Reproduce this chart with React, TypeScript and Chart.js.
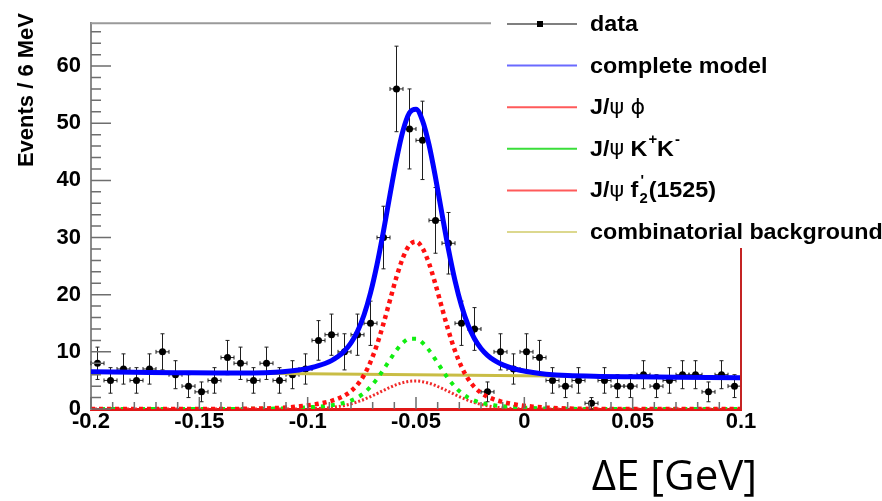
import React, { useEffect, useRef } from 'react';
import { Chart, registerables } from 'chart.js';

Chart.register(...registerables);

// ---------------- data ----------------
const BIN_LOW = -0.2;
const BIN_WIDTH = 0.006; // 6 MeV bins

const dataCounts = [
  8, 5, 7, 5, 7, 10, 6, 4, 3, 5,
  9, 8, 5, 8, 5, 6, 7, 12, 13, 10,
  13, 15, 30, 56, 49, 47, 33, 29, 15, 14,
  3, 10, 7, 10, 9, 5, 4, 5, 1, 5,
  4, 4, 6, 4, 5, 6, 6, 3, 6, 4,
];

const curveX = [
  -0.2, -0.18, -0.16, -0.14, -0.125, -0.115, -0.108, -0.104, -0.101, -0.098,
  -0.095, -0.092, -0.089, -0.086, -0.083, -0.08, -0.077, -0.074, -0.071, -0.068,
  -0.065, -0.062, -0.059, -0.056, -0.053, -0.05, -0.047, -0.044, -0.041, -0.038,
  -0.035, -0.032, -0.029, -0.026, -0.023, -0.02, -0.017, -0.014, -0.011, -0.008,
  -0.005, -0.002, 0.001, 0.004, 0.01, 0.02, 0.035, 0.05, 0.07, 0.1,
];

const completeModel = [
  6.5, 6.43, 6.36, 6.3, 6.32, 6.43, 6.64, 6.83, 7.02, 7.26,
  7.57, 7.96, 8.47, 9.17, 10.15, 11.56, 13.58, 16.44, 20.31, 25.26,
  31.14, 37.51, 43.66, 48.71, 51.83, 52.46, 50.47, 46.25, 40.5, 34.12,
  27.92, 22.47, 18.06, 14.71, 12.29, 10.58, 9.39, 8.54, 7.92, 7.45,
  7.09, 6.79, 6.56, 6.37, 6.09, 5.84, 5.7, 5.63, 5.56, 5.45,
];

const jpsiPhi = [
  0, 0, 0, 0.01, 0.05, 0.16, 0.31, 0.45, 0.57, 0.73,
  0.92, 1.15, 1.43, 1.82, 2.35, 3.12, 4.26, 5.91, 8.23, 11.27,
  14.96, 19.06, 23.1, 26.5, 28.69, 29.28, 28.13, 25.48, 21.8, 17.68,
  13.67, 10.17, 7.38, 5.29, 3.83, 2.83, 2.15, 1.68, 1.33, 1.06,
  0.85, 0.67, 0.53, 0.41, 0.24, 0.08, 0.01, 0, 0, 0,
];

const jpsiKK = [
  0, 0, 0, 0, 0.03, 0.07, 0.15, 0.21, 0.26, 0.33,
  0.42, 0.52, 0.66, 0.84, 1.09, 1.46, 2.01, 2.8, 3.88, 5.26,
  6.9, 8.65, 10.3, 11.59, 12.31, 12.31, 11.59, 10.3, 8.65, 6.9,
  5.26, 3.88, 2.8, 2.01, 1.46, 1.09, 0.84, 0.66, 0.52, 0.42,
  0.33, 0.26, 0.21, 0.16, 0.09, 0.03, 0.01, 0, 0, 0,
];

const jpsiF2 = [
  0, 0, 0, 0, 0, 0, 0.01, 0.02, 0.03, 0.06,
  0.1, 0.17, 0.27, 0.42, 0.62, 0.9, 1.24, 1.67, 2.16, 2.69,
  3.25, 3.79, 4.26, 4.62, 4.84, 4.9, 4.78, 4.51, 4.11, 3.61,
  3.07, 2.51, 1.99, 1.52, 1.12, 0.8, 0.55, 0.36, 0.23, 0.14,
  0.09, 0.05, 0.03, 0.02, 0, 0, 0, 0, 0, 0,
];

const bgX = [-0.2, 0.1];
const bgY = [6.5, 5.45];

const xTickValues = [-0.2, -0.15, -0.1, -0.05, 0, 0.05, 0.1];
const yTickValues = [0, 10, 20, 30, 40, 50, 60];

const yAxisTitle = 'Events / 6 MeV';
const xAxisTitle = 'ΔE [GeV]';

type Seg = { t: string; g?: boolean; sup?: boolean; sub?: boolean; stackSup?: string };
const legendLabels: Seg[][] = [
  [{ t: 'data' }],
  [{ t: 'complete model' }],
  [{ t: 'J/' }, { t: 'ψ', g: true }, { t: ' ' }, { t: 'ϕ', g: true }],
  [{ t: 'J/' }, { t: 'ψ', g: true }, { t: ' K' }, { t: '+', sup: true }, { t: 'K' }, { t: '-', sup: true }],
  [{ t: 'J/' }, { t: 'ψ', g: true }, { t: ' f' }, { t: '2', sub: true, stackSup: "'" }, { t: '(1525)' }],
  [{ t: 'combinatorial background' }],
];
const legendColors = ['#555555', '#6a6aff', '#ff5a5a', '#3ade3a', '#ff5a5a', '#dcd88e'];

// ---------------- helpers ----------------
const FONT = '"Liberation Sans", Arial, sans-serif';
const GREEK_FONT = '"DejaVu Sans", "Liberation Sans", sans-serif';
const STRETCH = 1.06;
const toPts = (xs: number[], ys: number[]) => xs.map((x, i) => ({ x, y: ys[i] }));

function drawStretched(ctx: CanvasRenderingContext2D, text: string, x: number, y: number) {
  ctx.save();
  ctx.translate(x, y);
  ctx.scale(STRETCH, 1);
  ctx.fillText(text, 0, 0);
  ctx.restore();
  return ctx.measureText(text).width * STRETCH;
}

const rootPlugin = {
  id: 'rootStyle',
  beforeDatasetsDraw(chart: any) {
    const { ctx, scales } = chart;
    const x = scales.x;
    const y = scales.y;
    ctx.save();
    ctx.strokeStyle = '#1e1e1e';
    ctx.lineWidth = 1;
    dataCounts.forEach((n, i) => {
      const xc = BIN_LOW + BIN_WIDTH * (i + 0.5);
      const px = x.getPixelForValue(xc);
      const x0 = x.getPixelForValue(xc - BIN_WIDTH / 2);
      const x1 = x.getPixelForValue(xc + BIN_WIDTH / 2);
      const py = y.getPixelForValue(n);
      const e = Math.sqrt(n);
      const yt = y.getPixelForValue(n + e);
      const yb = y.getPixelForValue(Math.max(0, n - e));
      ctx.beginPath();
      ctx.moveTo(px, yt); ctx.lineTo(px, yb);
      ctx.moveTo(px - 2, yt); ctx.lineTo(px + 2, yt);
      ctx.moveTo(px - 2, yb); ctx.lineTo(px + 2, yb);
      ctx.moveTo(x0, py); ctx.lineTo(x1, py);
      ctx.moveTo(x0, py - 2); ctx.lineTo(x0, py + 2);
      ctx.moveTo(x1, py - 2); ctx.lineTo(x1, py + 2);
      ctx.stroke();
    });
    ctx.restore();
  },
  afterDatasetsDraw(chart: any) {
    const { ctx, chartArea, scales } = chart;
    const x = scales.x;
    const y = scales.y;
    const { left, right, top, bottom } = chartArea;
    ctx.save();
    // inward ticks
    ctx.strokeStyle = '#6e6e6e';
    ctx.lineWidth = 1.5;
    ctx.beginPath();
    for (let v = 0; v <= 66; v += 2) {
      const py = y.getPixelForValue(v);
      const len = v % 10 === 0 ? 20 : 10;
      ctx.moveTo(left, py);
      ctx.lineTo(left + len, py);
    }
    for (let k = 0; k <= 30; k++) {
      const px = x.getPixelForValue(-0.2 + k * 0.01);
      const len = k % 5 === 0 ? 12 : 7;
      ctx.moveTo(px, bottom);
      ctx.lineTo(px, bottom - len);
    }
    ctx.stroke();
    // frame: top (gray) and right (red)
    ctx.strokeStyle = '#9a9a9a';
    ctx.lineWidth = 2;
    ctx.beginPath();
    ctx.moveTo(left, top);
    ctx.lineTo(right, top);
    ctx.stroke();
    ctx.strokeStyle = '#c42424';
    ctx.lineWidth = 2;
    ctx.beginPath();
    ctx.moveTo(right, top);
    ctx.lineTo(right, bottom);
    ctx.stroke();
    ctx.restore();
  },
  afterDraw(chart: any) {
    const { ctx } = chart;
    ctx.save();
    // y axis title (top aligned, ROOT style)
    ctx.fillStyle = '#000';
    ctx.font = `bold 22px ${FONT}`;
    ctx.save();
    ctx.translate(27, 13);
    ctx.rotate(-Math.PI / 2);
    ctx.textAlign = 'right';
    ctx.textBaseline = 'middle';
    ctx.fillText(yAxisTitle, 0, 0);
    ctx.restore();

    // legend box
    ctx.fillStyle = '#ffffff';
    ctx.fillRect(491, 0, 391, 248);
    const rowY0 = 24;
    const rowStep = 41.6;
    legendLabels.forEach((segs, i) => {
      const yy = rowY0 + rowStep * i;
      ctx.strokeStyle = legendColors[i];
      ctx.lineWidth = i === 0 ? 1.5 : 2;
      ctx.beginPath();
      ctx.moveTo(507, yy);
      ctx.lineTo(577, yy);
      ctx.stroke();
      if (i === 0) {
        ctx.fillStyle = '#000';
        ctx.fillRect(537, yy - 3, 6, 6);
      }
      let tx = 590;
      ctx.fillStyle = '#000';
      ctx.textBaseline = 'middle';
      ctx.textAlign = 'left';
      segs.forEach((s) => {
        if (s.sup) {
          ctx.font = `bold 14px ${FONT}`;
          tx += drawStretched(ctx, s.t, tx + 1, yy - 9) + 1;
        } else if (s.sub) {
          ctx.font = `bold 14px ${FONT}`;
          const w1 = drawStretched(ctx, s.t, tx + 1, yy + 9);
          let w2 = 0;
          if (s.stackSup) {
            w2 = drawStretched(ctx, s.stackSup, tx + 2, yy - 9);
          }
          tx += Math.max(w1, w2) + 2;
        } else if (s.g) {
          ctx.font = `21px ${GREEK_FONT}`;
          tx += drawStretched(ctx, s.t, tx, yy + 1);
        } else {
          ctx.font = `bold 22px ${FONT}`;
          tx += drawStretched(ctx, s.t, tx, yy + 1);
        }
      });
    });
    // x axis title
    ctx.font = '42px "Open Sans", "Noto Sans", sans-serif';
    ctx.fillStyle = '#000';
    ctx.textAlign = 'right';
    ctx.textBaseline = 'alphabetic';
    ctx.fillText(xAxisTitle, 757, 490);
    ctx.restore();
  },
};

export default function App() {
  const canvasRef = useRef<HTMLCanvasElement | null>(null);

  useEffect(() => {
    document.body.style.margin = '0';
    const canvas = canvasRef.current;
    if (!canvas) return;
    const chart = new Chart(canvas, {
      type: 'scatter',
      data: {
        datasets: [
          {
            type: 'scatter',
            label: 'data',
            data: dataCounts.map((n, i) => ({ x: BIN_LOW + BIN_WIDTH * (i + 0.5), y: n })),
            pointRadius: 3.5,
            pointBackgroundColor: '#000',
            pointBorderWidth: 0,
            order: 6,
          } as any,
          {
            type: 'line',
            label: 'combinatorial background',
            data: toPts(bgX, bgY),
            borderColor: '#c9bd45',
            borderWidth: 3,
            pointRadius: 0,
            order: 5,
          } as any,
          {
            type: 'line',
            label: "J/ψ f2'(1525)",
            data: toPts(curveX, jpsiF2),
            borderColor: '#f02a2a',
            borderWidth: 3,
            borderDash: [2, 2],
            pointRadius: 0,
            cubicInterpolationMode: 'monotone',
            order: 4,
          } as any,
          {
            type: 'line',
            label: 'J/ψ K+K-',
            data: toPts(curveX, jpsiKK),
            borderColor: '#11ee11',
            borderWidth: 4,
            borderDash: [4, 6],
            pointRadius: 0,
            cubicInterpolationMode: 'monotone',
            order: 3,
          } as any,
          {
            type: 'line',
            label: 'J/ψ ϕ',
            data: toPts(curveX, jpsiPhi),
            borderColor: '#ff1010',
            borderWidth: 4.5,
            borderDash: [4, 4],
            pointRadius: 0,
            cubicInterpolationMode: 'monotone',
            order: 2,
          } as any,
          {
            type: 'line',
            label: 'complete model',
            data: toPts(curveX, completeModel),
            borderColor: '#0000ff',
            borderWidth: 5,
            pointRadius: 0,
            cubicInterpolationMode: 'monotone',
            borderJoinStyle: 'round',
            order: 1,
          } as any,
        ],
      },
      options: {
        responsive: false,
        animation: false,
        layout: { padding: { left: 0, top: 9, right: 141, bottom: 0 } },
        plugins: {
          legend: { display: false },
          tooltip: { enabled: false },
        },
        scales: {
          x: {
            type: 'linear',
            min: -0.2,
            max: 0.1,
            afterBuildTicks: (axis: any) => {
              axis.ticks = xTickValues.map((v) => ({ value: v }));
            },
            afterFit: (axis: any) => {
              axis.height = 92;
            },
            ticks: {
              autoSkip: false,
              maxRotation: 0,
              padding: 0,
              color: '#000',
              font: { family: FONT, size: 22, weight: 'bold' },
              callback: (v: any) => String(Number(Number(v).toFixed(3))),
            },
            grid: { display: false, drawTicks: false },
            border: { display: true, color: '#e01818', width: 3 },
          },
          y: {
            type: 'linear',
            min: 0,
            max: 67.5,
            afterBuildTicks: (axis: any) => {
              axis.ticks = yTickValues.map((v) => ({ value: v }));
            },
            afterFit: (axis: any) => {
              axis.width = 91;
            },
            ticks: {
              padding: 10,
              color: '#000',
              font: { family: FONT, size: 22, weight: 'bold' },
              callback: (v: any) => String(v),
            },
            grid: { display: false, drawTicks: false },
            border: { display: true, color: '#8a8a8a', width: 2 },
          },
        },
      } as any,
      plugins: [rootPlugin as any],
    });
    return () => {
      chart.destroy();
    };
  }, []);

  return (
    <div style={{ position: 'fixed', left: 0, top: 0, width: 882, height: 501, background: '#fff' }}>
      <canvas ref={canvasRef} width={882} height={501} style={{ display: 'block' }} />
    </div>
  );
}
